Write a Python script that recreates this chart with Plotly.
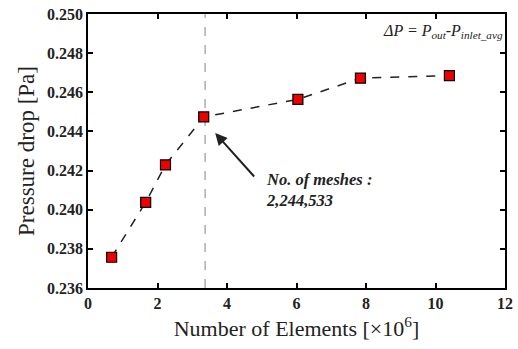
import plotly.graph_objects as go

elements = [0.68, 1.66, 2.23, 3.33, 6.04, 7.84, 10.40]
pressure_drop = [0.23757, 0.24038, 0.24229, 0.24474, 0.24564, 0.24672, 0.24685]
x_ticks = [0, 2, 4, 6, 8, 10, 12]
y_ticks = [0.236, 0.238, 0.240, 0.242, 0.244, 0.246, 0.248, 0.250]
chosen_x = 3.37

serif = "Liberation Serif"

fig = go.Figure()
fig.add_trace(go.Scatter(
    x=elements, y=pressure_drop, mode="lines+markers",
    line=dict(color="#222222", width=1.5, dash="dash"),
    marker=dict(symbol="square", size=10, color="#ee0000",
                line=dict(color="black", width=1.2)),
    showlegend=False,
))

fig.add_shape(type="line", xref="x", yref="paper", x0=chosen_x, x1=chosen_x,
              y0=0, y1=1, line=dict(color="#999999", width=1.2, dash="dash"),
              layer="below")

fig.add_annotation(x=3.66, y=0.24392, ax=4.82, ay=0.24162, xref="x", yref="y",
                   axref="x", ayref="y", text="", showarrow=True,
                   arrowhead=2, arrowsize=1.2, arrowwidth=2, arrowcolor="#222222")
fig.add_annotation(x=5.07, y=0.2410, xref="x", yref="y", xanchor="left", yanchor="middle",
                   text="<b><i>No. of meshes :<br>2,244,533</i></b>", showarrow=False,
                   align="left", font=dict(family=serif, size=16.5, color="#222222"))
fig.add_annotation(x=1.0, y=0.935, xref="paper", yref="paper", xanchor="right",
                   yanchor="middle",
                   text="<i>ΔP = P<sub>out</sub>-P<sub>inlet_avg</sub></i>",
                   showarrow=False, font=dict(family=serif, size=16, color="#222222"))

axis_common = dict(showgrid=False, zeroline=False, showline=True, linecolor="black",
                   linewidth=1.5, mirror="ticks", ticks="inside", ticklen=5,
                   tickwidth=1.5, tickcolor="black", ticklabeloverflow="allow")

fig.update_xaxes(range=[0, 12], tickvals=x_ticks,
                 ticktext=[f"<b>{v}</b>" for v in x_ticks],
                 tickfont=dict(family=serif, size=16, color="#222222"),
                 title=dict(text="Number of Elements [×10<sup>6</sup>]",
                            font=dict(family=serif, size=22, color="#222222"), standoff=10),
                 **axis_common)
fig.update_yaxes(range=[0.236, 0.250], tickvals=y_ticks,
                 ticktext=[f"<b>{v:.3f}</b>" for v in y_ticks],
                 tickfont=dict(family=serif, size=16, color="#222222"),
                 title=dict(text="Pressure drop [Pa]",
                            font=dict(family=serif, size=23, color="#222222"), standoff=6),
                 **axis_common)

fig.update_layout(width=518, height=349, margin=dict(l=88, r=5, t=14, b=61),
                  font=dict(family=serif, color="#222222"),
                  plot_bgcolor="white", paper_bgcolor="white")

fig.write_html("out.html")
